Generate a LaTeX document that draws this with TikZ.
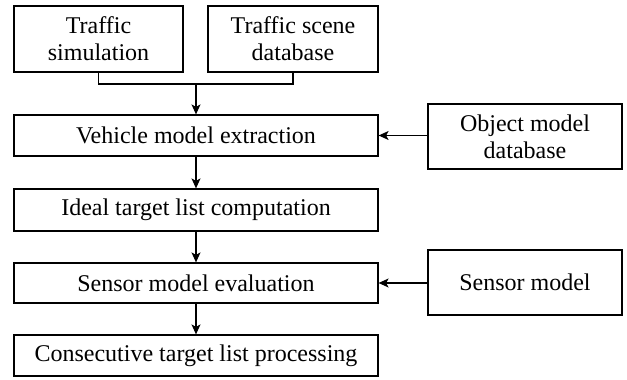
\documentclass[tikz,border=0pt]{standalone}
\usepackage{fontspec}
\setmainfont{Liberation Serif}
\usetikzlibrary{arrows.meta}
\begin{document}
\begin{tikzpicture}[x=1pt,y=-1pt,
  box/.style={draw,line width=1.2pt,inner sep=0pt,align=center,font=\fontsize{24}{27}\selectfont},
  arr/.style={line width=1.2pt,-{Stealth[length=10pt,width=9pt,inset=2.5pt]}},
  ln/.style={line width=1.2pt}]
\useasboundingbox (0,0) rectangle (627,380);
\node[box,minimum width=169pt,minimum height=66pt] (ts) at (98.5,39) {Traffic\\simulation};
\node[box,minimum width=170pt,minimum height=66pt] (tsd) at (293,39) {Traffic scene\\database};
\node[box,minimum width=364pt,minimum height=41pt] (vme) at (196,135.5) {Vehicle model extraction};
\node[box,minimum width=194pt,minimum height=65pt] (omd) at (525,136.5) {Object model\\database};
\node[box,minimum width=364pt,minimum height=42pt] (itl) at (196,210) {Ideal target list computation};
\node[box,minimum width=364pt,minimum height=40pt] (sme) at (196,283) {Sensor model evaluation};
\node[box,minimum width=194pt,minimum height=65pt] (smd) at (525,282.5) {Sensor model};
\node[box,minimum width=364pt,minimum height=41pt] (ctl) at (196,355.5) {Consecutive target list processing};
\coordinate (j) at (196,84);
\draw[ln] (ts.south) |- (j) -| (tsd.south);
\draw[arr] (j) -- (vme.north);
\draw[arr] (omd.west |- vme.east) -- (vme.east);
\draw[arr] (vme.south) -- (itl.north);
\draw[arr] (itl.south) -- (sme.north);
\draw[arr] (smd.west |- sme.east) -- (sme.east);
\draw[arr] (sme.south) -- (ctl.north);
\end{tikzpicture}
\end{document}
